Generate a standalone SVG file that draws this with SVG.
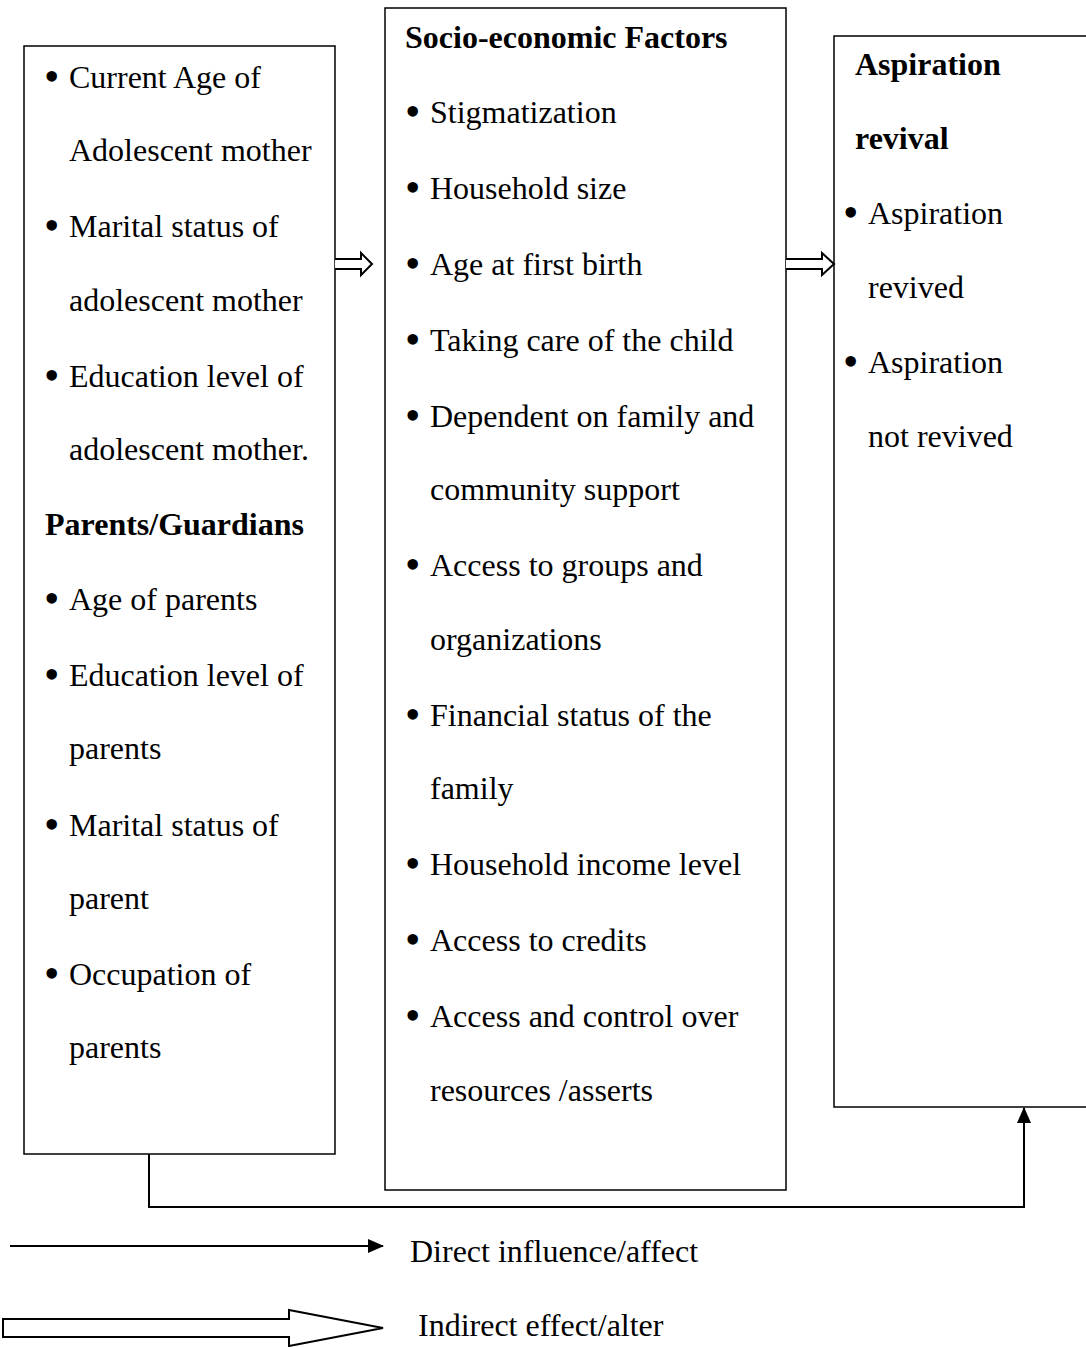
<svg xmlns="http://www.w3.org/2000/svg" width="1086" height="1347" viewBox="0 0 1086 1347">
<style>
.box{fill:#fff;stroke:#000;stroke-width:1.5}
text{font-family:"Liberation Serif","Times New Roman",serif;font-size:32px;fill:#000}
.b{font-weight:bold}
.bu{font-size:44px}
.ln{fill:none;stroke:#000;stroke-width:2}
.hol{fill:#fff;stroke:#000;stroke-width:2;stroke-linejoin:miter}
</style>
<defs>
<marker id="ah" markerWidth="16" markerHeight="14" refX="15" refY="7" orient="auto" markerUnits="userSpaceOnUse">
<path d="M0,0 L16,7 L0,14 Z" fill="#000"/>
</marker>
</defs>
<rect width="1086" height="1347" fill="#fff"/>
<g id="box-left">
<rect class="box" x="24" y="46" width="311" height="1108"/>
<text class="bu" x="44" y="91">•</text><text x="69" y="88">Current Age of</text>
<text x="69" y="161">Adolescent mother</text>
<text class="bu" x="44" y="240">•</text><text x="69" y="237">Marital status of</text>
<text x="69" y="311">adolescent mother</text>
<text class="bu" x="44" y="390">•</text><text x="69" y="387">Education level of</text>
<text x="69" y="460">adolescent mother.</text>
<text class="b" x="45" y="535">Parents/Guardians</text>
<text class="bu" x="44" y="613">•</text><text x="69" y="610">Age of parents</text>
<text class="bu" x="44" y="689">•</text><text x="69" y="686">Education level of</text>
<text x="69" y="759">parents</text>
<text class="bu" x="44" y="839">•</text><text x="69" y="836">Marital status of</text>
<text x="69" y="909">parent</text>
<text class="bu" x="44" y="988">•</text><text x="69" y="985">Occupation of</text>
<text x="69" y="1058">parents</text>
</g>
<g id="box-middle">
<rect class="box" x="385" y="8" width="401" height="1182"/>
<text class="b" x="405" y="48">Socio-economic Factors</text>
<text class="bu" x="405" y="126">•</text><text x="430" y="123">Stigmatization</text>
<text class="bu" x="405" y="202">•</text><text x="430" y="199">Household size</text>
<text class="bu" x="405" y="278">•</text><text x="430" y="275">Age at first birth</text>
<text class="bu" x="405" y="354">•</text><text x="430" y="351">Taking care of the child</text>
<text class="bu" x="405" y="430">•</text><text x="430" y="427">Dependent on family and</text>
<text x="430" y="500">community support</text>
<text class="bu" x="405" y="579">•</text><text x="430" y="576">Access to groups and</text>
<text x="430" y="650">organizations</text>
<text class="bu" x="405" y="729">•</text><text x="430" y="726">Financial status of the</text>
<text x="430" y="799">family</text>
<text class="bu" x="405" y="878">•</text><text x="430" y="875">Household income level</text>
<text class="bu" x="405" y="954">•</text><text x="430" y="951">Access to credits</text>
<text class="bu" x="405" y="1030">•</text><text x="430" y="1027">Access and control over</text>
<text x="430" y="1101">resources /asserts</text>
</g>
<g id="box-right">
<rect class="box" x="834" y="36" width="260" height="1071"/>
<text class="b" x="855" y="75">Aspiration</text>
<text class="b" x="855" y="149">revival</text>
<text class="bu" x="843" y="227">•</text><text x="868" y="224">Aspiration</text>
<text x="868" y="298">revived</text>
<text class="bu" x="843" y="376">•</text><text x="868" y="373">Aspiration</text>
<text x="868" y="447">not revived</text>
</g>
<g id="connectors">
<path class="hol" d="M335,259 L361,259 L361,253 L372,264 L361,275 L361,269 L335,269"/>
<path class="hol" d="M786,259 L822,259 L822,253 L834,264 L822,275 L822,269 L786,269"/>
<path class="ln" d="M149,1154 L149,1207 L1024,1207 L1024,1108" marker-end="url(#ah)"/>
</g>
<g id="legend">
<line class="ln" x1="10" y1="1246" x2="383" y2="1246" marker-end="url(#ah)"/>
<text x="410" y="1262">Direct influence/affect</text>
<path class="hol" d="M3,1319 L289,1319 L289,1310 L383,1328 L289,1346 L289,1337 L3,1337 Z"/>
<text x="418" y="1336">Indirect effect/alter</text>
</g>
</svg>
